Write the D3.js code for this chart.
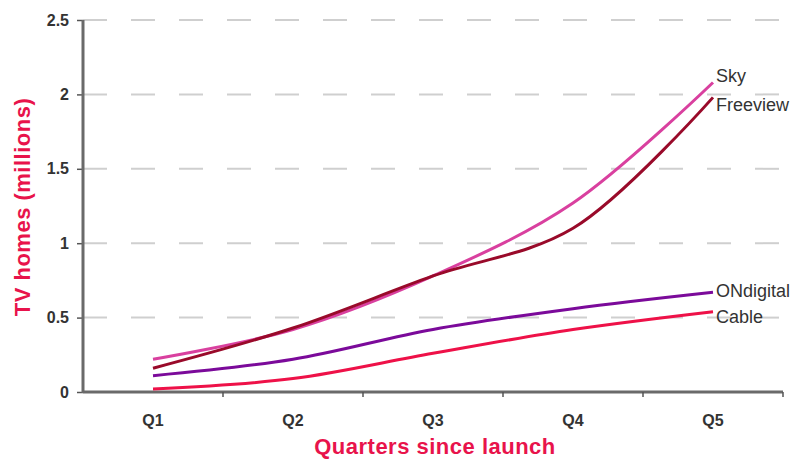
<!DOCTYPE html>
<html>
<head>
<meta charset="utf-8">
<script src="https://cdn.jsdelivr.net/npm/d3@7"></script>
<style>
  body { margin: 0; background: #fff; }
  svg { display: block; font-family: "Liberation Sans", Arial, sans-serif; }
</style>
</head>
<body>
<svg id="chart" width="799" height="459"></svg>
<script>
// Data
var quarters = ["Q1", "Q2", "Q3", "Q4", "Q5"];
var yTicks = [0, 0.5, 1, 1.5, 2, 2.5];
var seriesNames = ["Sky", "Freeview", "ONdigital", "Cable"];
var sky = [0.22, 0.42, 0.78, 1.27, 2.08];
var freeview = [0.16, 0.43, 0.78, 1.10, 1.98];
var ondigital = [0.11, 0.22, 0.42, 0.56, 0.67];
var cable = [0.02, 0.09, 0.26, 0.42, 0.54];

var seriesValues = [sky, freeview, ondigital, cable];
var colors = ["#d9409f", "#990a2a", "#7b0a9a", "#ee1148"];
// small vertical nudges for end labels
var labelNudge = [-7, 7, -2, 5];

var svg = d3.select("#chart");

// plot box (don't use "top" - clashes with window.top)
var pLeft = 83, pRight = 783, pTop = 20, pBottom = 392;

var x = d3.scaleBand().domain(quarters).range([pLeft, pRight]);
var y = d3.scaleLinear().domain([0, 2.5]).range([pBottom, pTop]);

var xc = function (q) { return x(q) + x.bandwidth() / 2; };

// Gridlines
svg.append("g")
  .selectAll("line")
  .data(yTicks.filter(function (d) { return d > 0; }))
  .enter().append("line")
  .attr("x1", pLeft).attr("x2", pRight)
  .attr("y1", function (d) { return y(d); })
  .attr("y2", function (d) { return y(d); })
  .style("stroke", "#cfcfcf")
  .style("stroke-width", 2)
  .style("stroke-dasharray", "24,24");

// Y axis
var yAxis = svg.append("g")
  .attr("transform", "translate(" + pLeft + ",0)")
  .call(d3.axisLeft(y).tickValues(yTicks).tickSize(6).tickPadding(8)
    .tickFormat(function (d) { return String(d); }));
yAxis.select(".domain").remove();
yAxis.selectAll(".tick line").style("stroke", "#555").style("stroke-width", 1.5);
yAxis.selectAll("text")
  .style("font-size", "16px").style("font-weight", "bold").style("fill", "#333");
svg.append("line")
  .attr("x1", pLeft).attr("x2", pLeft).attr("y1", pTop).attr("y2", pBottom + 1)
  .style("stroke", "#6a6a6a").style("stroke-width", 3);

// X axis
svg.append("line")
  .attr("x1", pLeft).attr("x2", pRight).attr("y1", pBottom).attr("y2", pBottom)
  .style("stroke", "#6a6a6a").style("stroke-width", 3);
svg.append("g")
  .selectAll("line")
  .data(quarters)
  .enter().append("line")
  .attr("x1", function (q) { return x(q) + x.bandwidth(); })
  .attr("x2", function (q) { return x(q) + x.bandwidth(); })
  .attr("y1", pBottom).attr("y2", pBottom + 5)
  .style("stroke", "#555").style("stroke-width", 1.5);
svg.append("g")
  .selectAll("text")
  .data(quarters)
  .enter().append("text")
  .attr("x", xc)
  .attr("y", pBottom + 34)
  .attr("text-anchor", "middle")
  .style("font-size", "16px").style("font-weight", "bold").style("fill", "#333")
  .text(function (q) { return q; });

// Lines
var line = d3.line()
  .x(function (d, i) { return xc(quarters[i]); })
  .y(function (d) { return y(d); })
  .curve(d3.curveCatmullRom);

svg.append("g")
  .selectAll("path")
  .data(seriesValues)
  .enter().append("path")
  .attr("d", line)
  .style("fill", "none")
  .style("stroke", function (d, i) { return colors[i]; })
  .style("stroke-width", 3);

// End labels
svg.append("g")
  .selectAll("text")
  .data(seriesNames)
  .enter().append("text")
  .attr("x", xc(quarters[4]) + 3)
  .attr("y", function (d, i) { return y(seriesValues[i][4]) + labelNudge[i]; })
  .attr("dy", "0.35em")
  .style("font-size", "18px").style("fill", "#333")
  .text(function (d) { return d; });

// Axis titles
svg.append("text")
  .attr("transform", "translate(30,207) rotate(-90)")
  .attr("text-anchor", "middle")
  .style("font-size", "22px").style("font-weight", "bold").style("fill", "#e8134b")
  .style("letter-spacing", "0.5px")
  .text("TV homes (millions)");

svg.append("text")
  .attr("x", 435).attr("y", 454)
  .attr("text-anchor", "middle")
  .style("font-size", "22px").style("font-weight", "bold").style("fill", "#e8134b")
  .style("letter-spacing", "0.5px")
  .text("Quarters since launch");
</script>
</body>
</html>
